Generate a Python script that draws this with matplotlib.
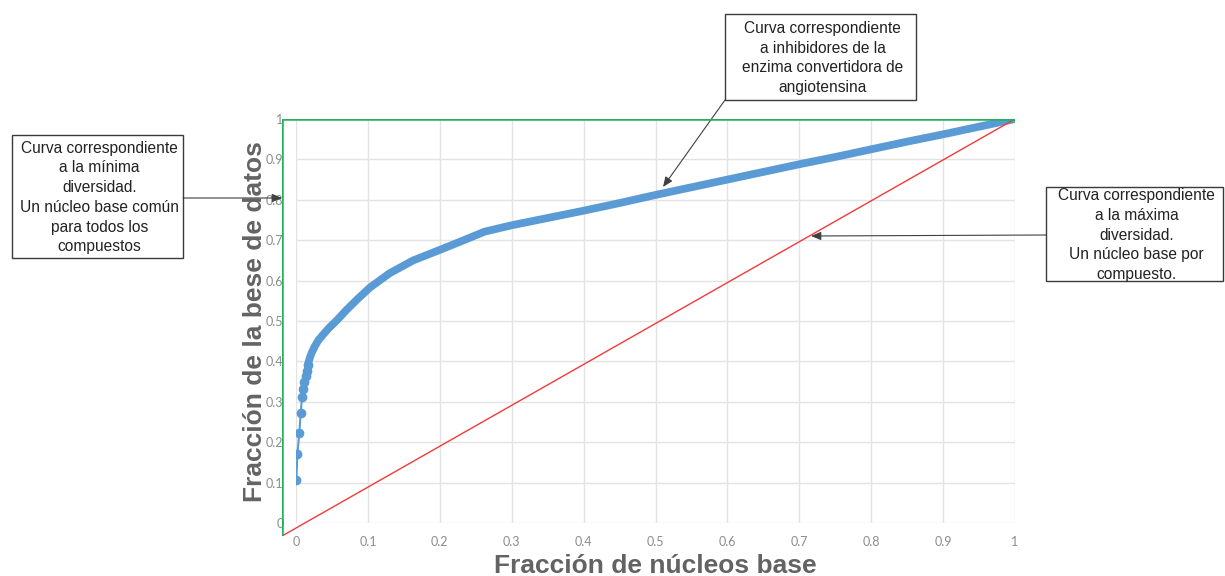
import numpy as np
import matplotlib.pyplot as plt
from matplotlib.patches import Rectangle

# curva de los inhibidores (primeros puntos separados)
x_marks = [0.0005, 0.002, 0.0046, 0.0065, 0.0085, 0.010, 0.0115, 0.0135, 0.015, 0.017]
y_marks = [0.107, 0.172, 0.223, 0.273, 0.312, 0.332, 0.349, 0.364, 0.377, 0.392]
# resto de la curva (puntos muy juntos, se ve como banda)
x_band = [0.017, 0.019, 0.022, 0.026, 0.031, 0.038, 0.046, 0.057, 0.07, 0.086, 0.103, 0.13, 0.163, 0.2,
          0.232, 0.262, 0.3, 0.35, 0.4, 0.45, 0.5, 0.55, 0.6, 0.65, 0.7, 0.75, 0.8, 0.85, 0.9, 0.95, 1.0]
y_band = [0.395, 0.408, 0.422, 0.437, 0.452, 0.467, 0.483, 0.502, 0.527, 0.555, 0.583, 0.618, 0.65, 0.676,
          0.699, 0.721, 0.737, 0.755, 0.773, 0.792, 0.812, 0.831, 0.85, 0.869, 0.888, 0.906, 0.925, 0.944,
          0.962, 0.981, 1.0]
# curvas de referencia (maxima y minima diversidad)
x_max_div = [0, 1]
y_max_div = [0, 1]
x_min_div = [0, 0, 1]
y_min_div = [0, 1, 1]

ticks = [0, 0.1, 0.2, 0.3, 0.4, 0.5, 0.6, 0.7, 0.8, 0.9, 1]
tick_labels = ['0', '0.1', '0.2', '0.3', '0.4', '0.5', '0.6', '0.7', '0.8', '0.9', '1']

x_name = 'Fracción de núcleos base'
y_name = 'Fracción de la bese de datos'
txt_min = 'Curva correspondiente\na la mínima\ndiversidad.\nUn núcleo base común\npara todos los\ncompuestos'
txt_ace = 'Curva correspondiente\na inhibidores de la\nenzima convertidora de\nangiotensina'
txt_max = 'Curva correspondiente\na la máxima\ndiversidad.\nUn núcleo base por\ncompuesto.'

W, H = 1225, 576
plt.rcParams['font.family'] = ['Liberation Sans', 'DejaVu Sans']
fig = plt.figure(figsize=(W / 100, H / 100), dpi=100)


def fx(px):
    return px / W


def fy(py):
    return 1 - py / H


##grafico principal
ax = fig.add_axes([fx(296), fy(523), fx(1015) - fx(296), fy(119) - fy(523)])
ax.set_xlim(0, 1)
ax.set_ylim(0, 1)
for s in ax.spines.values():
    s.set_visible(False)
ax.set_xticks(ticks)
ax.set_yticks(ticks)
ax.set_xticklabels(tick_labels, family=['Lato', 'DejaVu Sans'])
ax.set_yticklabels(tick_labels, family=['Lato', 'DejaVu Sans'])
ax.tick_params(length=0, labelsize=9, labelcolor='#8c8c8c')
ax.tick_params(axis='x', pad=9)
ax.tick_params(axis='y', pad=9)
ax.grid(True, color='#e3e3e3', lw=1.0)
ax.set_axisbelow(True)

ax.plot(x_band, y_band, '-', color='#5B9BD5', lw=5.6, solid_capstyle='round', solid_joinstyle='round', zorder=3)
ax.plot(x_marks, y_marks, '-o', color='#5B9BD5', lw=1.5, ms=6, zorder=3)

##curvas de referencia (eje secundario)
ax2 = fig.add_axes([fx(282), fy(536), fx(1015) - fx(282), fy(119) - fy(536)])
ax2.patch.set_visible(False)
ax2.set_xlim(0, 1)
ax2.set_ylim(0, 1)
ax2.axis('off')
ax2.plot(x_max_div, y_max_div, '-', color='#f23a3a', lw=1.0, zorder=2)
ax2.plot(x_min_div, y_min_div, '-', color='#1fb25a', lw=1.8, zorder=2)

##rotulos de ejes
fig.text(fx(655), fy(566), x_name, ha='center', va='center', fontsize=19, fontweight='bold', color='#636363')
fig.text(fx(255), fy(322), y_name, ha='center', va='center', rotation=90, fontsize=19, fontweight='bold',
         color='#636363')

##cuadros de texto
boxes = [((12, 135, 183, 258), txt_min), ((725, 14, 916, 100), txt_ace), ((1046, 187, 1223, 281), txt_max)]
for (x0, y0, x1, y1), txt in boxes:
    fig.add_artist(Rectangle((fx(x0), fy(y1)), fx(x1) - fx(x0), fy(y0) - fy(y1), transform=fig.transFigure,
                             fill=False, ec='#3a3a3a', lw=1.0))
    fig.text(fx((x0 + x1) / 2 + 2), fy((y0 + y1) / 2 + 1), txt, ha='center', va='center', fontsize=11.2,
             color='#222222', linespacing=1.4)

arrow = dict(arrowstyle='-|>,head_length=0.6,head_width=0.25', color='#404040', lw=0.8, shrinkA=0, shrinkB=0)
ax.annotate('', xy=(fx(282), fy(198)), xycoords='figure fraction', xytext=(fx(183), fy(198)),
            textcoords='figure fraction', arrowprops=arrow)
ax.annotate('', xy=(fx(663), fy(187)), xycoords='figure fraction', xytext=(fx(725), fy(100)),
            textcoords='figure fraction', arrowprops=arrow)
ax.annotate('', xy=(fx(811), fy(236)), xycoords='figure fraction', xytext=(fx(1046), fy(235)),
            textcoords='figure fraction', arrowprops=arrow)

plt.savefig('out.png', dpi=100)
